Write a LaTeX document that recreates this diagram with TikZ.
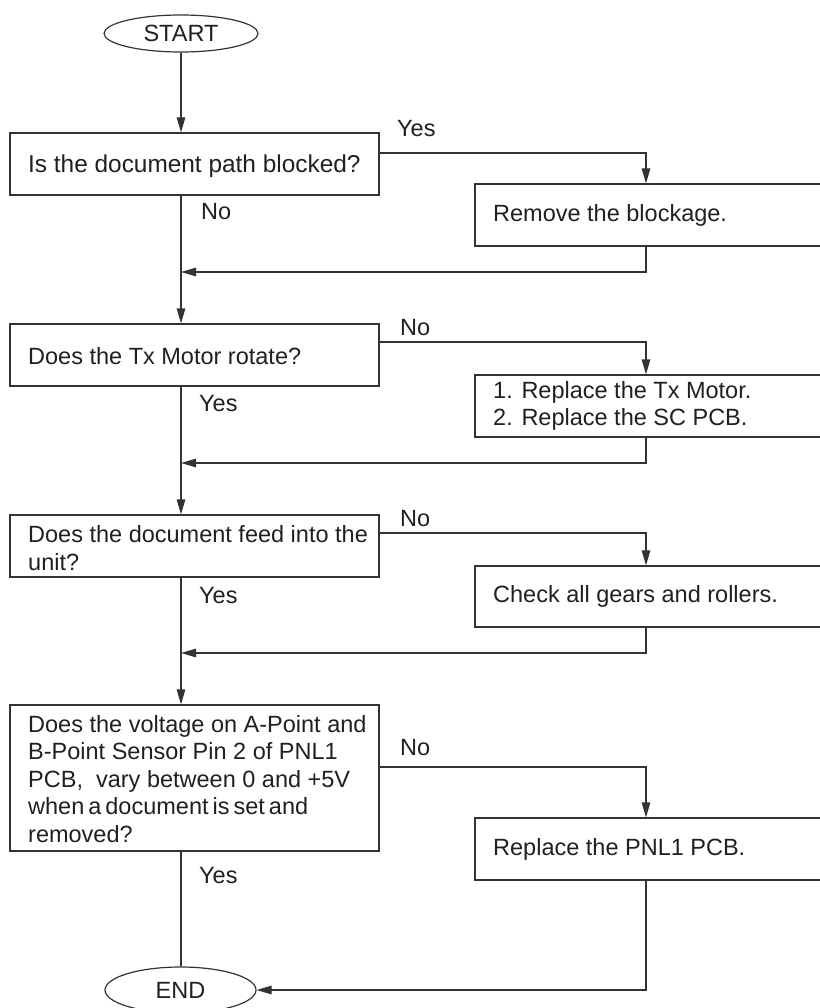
\documentclass[tikz,border=0pt]{standalone}
\usepackage{fontspec}
\setmainfont{Liberation Sans}
\usetikzlibrary{shapes.geometric,arrows.meta}
\definecolor{ink}{HTML}{231F20}
\definecolor{wire}{HTML}{333333}
\begin{document}
\begin{tikzpicture}[x=1pt,y=-1pt,
  font=\fontsize{23.5}{27.5}\selectfont, text=ink,
  box/.style={draw=wire, line width=1.2pt, rectangle, inner sep=0pt},
  terminal/.style={draw=wire, line width=1.2pt, ellipse, inner sep=0pt},
  txt/.style={anchor=west, align=left, inner sep=0pt},
  lbl/.style={anchor=west, inner sep=0pt},
  wireline/.style={draw=wire, line width=1.2pt},
  arr/.style={wireline, -{Triangle[length=15pt,width=8.5pt]}}]
\useasboundingbox (0,0) rectangle (819,1008);

% terminals
\node[terminal, minimum width=154pt, minimum height=37pt] (start) at (181,33.5) {START};
\node[terminal, minimum width=151pt, minimum height=46pt] (end) at (180.5,990) {END};

% left (decision) boxes
\node[box, minimum width=369pt, minimum height=62pt] (b1) at (194.5,164) {};
\node[box, minimum width=369pt, minimum height=62pt] (b3) at (194.5,355) {};
\node[box, minimum width=369pt, minimum height=62pt] (b5) at (194.5,546) {};
\node[box, minimum width=369pt, minimum height=146pt] (b7) at (194.5,778) {};

% right (action) boxes, running off the right edge
\node[box, minimum width=360pt, minimum height=62pt] (b2) at (655,215) {};
\node[box, minimum width=360pt, minimum height=62pt] (b4) at (655,406) {};
\node[box, minimum width=360pt, minimum height=61pt] (b6) at (655,596.5) {};
\node[box, minimum width=360pt, minimum height=62pt] (b8) at (655,849) {};

% texts
\node[txt, font=\fontsize{24.4}{28}\selectfont] (t1) at (28,166) {Is the document path blocked?};
\node[txt] (t3) at (28,356) {Does the Tx Motor rotate?};
\node[txt] (t5) at (28,548) {Does the document feed into the\\unit?};
\node[txt] (t7) at (28,779) {Does the voltage on A-Point and\\B-Point Sensor Pin 2 of PNL1\\PCB,\ \ vary between 0 and +5V\\{\spaceskip=4pt\relax when a document is set and}\\removed?};
\node[txt] (t2) at (493,215) {Remove the blockage.};
\node[txt] (t4) at (493,406) {1. Replace the Tx Motor.\\2. Replace the SC PCB.};
\node[txt] (t6) at (493,596) {Check all gears and rollers.};
\node[txt] (t8) at (493,849) {Replace the PNL1 PCB.};

% branch labels
\node[lbl] (y1) at (397,129) {Yes};
\node[lbl] (n1) at (201,212) {No};
\node[lbl] (n3) at (400,328) {No};
\node[lbl] (y3) at (199,404) {Yes};
\node[lbl] (n5) at (400,519) {No};
\node[lbl] (y5) at (199,596) {Yes};
\node[lbl] (n7) at (400,748) {No};
\node[lbl] (y7) at (199,876) {Yes};

% junction coordinates
\coordinate (j1) at (646,153);
\coordinate (r1) at (646,272);
\coordinate (j3) at (646,342);
\coordinate (r3) at (646,463);
\coordinate (j5) at (646,533);
\coordinate (r5) at (646,653);
\coordinate (j7) at (646,767);

% main spine
\draw[arr] (start.south) -- (start.south |- b1.north);
\draw[arr] (start.south |- b1.south) -- (start.south |- b3.north);
\draw[arr] (start.south |- b3.south) -- (start.south |- b5.north);
\draw[arr] (start.south |- b5.south) -- (start.south |- b7.north);
\draw[wireline] (start.south |- b7.south) -- (start.south |- end.north);

% side branches
\draw[arr] (b1.east |- j1) -- (j1) -- (j1 |- b2.north);
\draw[arr] (r1 |- b2.south) -- (r1) -- (start.south |- r1);
\draw[arr] (b3.east |- j3) -- (j3) -- (j3 |- b4.north);
\draw[arr] (r3 |- b4.south) -- (r3) -- (start.south |- r3);
\draw[arr] (b5.east |- j5) -- (j5) -- (j5 |- b6.north);
\draw[arr] (r5 |- b6.south) -- (r5) -- (start.south |- r5);
\draw[arr] (b7.east |- j7) -- (j7) -- (j7 |- b8.north);
\draw[arr] (j7 |- b8.south) -- (j7 |- end.east) -- (end.east);
\end{tikzpicture}
\end{document}
